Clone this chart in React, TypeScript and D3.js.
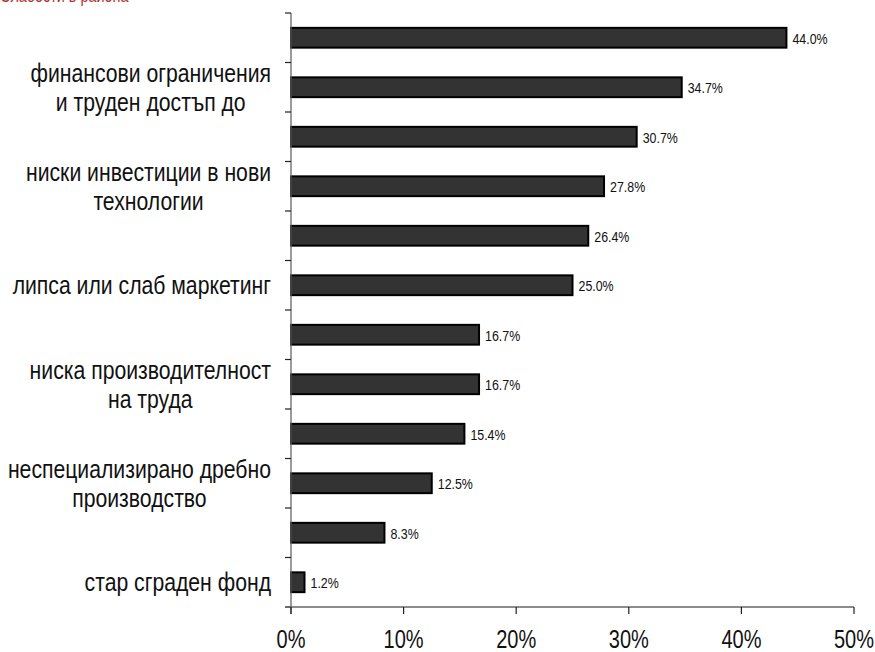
import React, { useEffect, useRef } from "react";
import * as d3 from "d3";

const labelLines: string[][] = [
  [],
  ["финансови ограничения", "и труден достъп до"],
  [],
  ["ниски инвестиции в нови", "технологии"],
  [],
  ["липса или слаб маркетинг"],
  [],
  ["ниска производителност", "на труда"],
  [],
  ["неспециализирано дребно", "производство"],
  [],
  ["стар сграден фонд"],
];
const values: number[] = [44.0, 34.7, 30.7, 27.8, 26.4, 25.0, 16.7, 16.7, 15.4, 12.5, 8.3, 1.2];
const xTicks: number[] = [0, 10, 20, 30, 40, 50];
const titleText = "Слабости в района";

const W = 875;
const H = 652;
const FONT = "'Liberation Sans', Arial, sans-serif";
const SX = 0.8;

export default function App() {
  const ref = useRef<SVGSVGElement | null>(null);

  useEffect(() => {
    const svg = d3.select(ref.current!);
    svg.selectAll("*").remove();

    const left = 291, right = 854, top = 13, bottom = 607;
    const x = d3.scaleLinear().domain([0, 50]).range([left, right]);
    const idx = values.map((_, i) => String(i));
    const y = d3.scaleBand().domain(idx).range([top, bottom]).paddingInner(0.6).paddingOuter(0.3);
    const step = y.step();

    const txt = (px: number, py: number, s: string, size: number, anchor: string, fill = "#111") =>
      svg.append("text")
        .attr("transform", `translate(${px},${py}) scale(${SX},1)`)
        .attr("text-anchor", anchor)
        .attr("font-family", FONT).attr("font-size", size)
        .attr("fill", fill)
        .text(s);

    // title (cut off at top, as in the reference)
    txt(0, 2, titleText, 18, "start", "#b03030");

    // bars
    svg.append("g").selectAll("rect").data(values).join("rect")
      .attr("x", x(0))
      .attr("y", (_, i) => y(String(i))!)
      .attr("width", (d) => x(d) - x(0))
      .attr("height", y.bandwidth())
      .attr("fill", "#333333")
      .attr("stroke", "#000")
      .attr("stroke-width", 2);

    // value labels
    values.forEach((d, i) => {
      txt(x(d) + 6, y(String(i))! + y.bandwidth() / 2 + 6, d.toFixed(1) + "%", 15.5, "start");
    });

    // y axis line
    svg.append("line")
      .attr("x1", left).attr("x2", left).attr("y1", top).attr("y2", bottom + 7)
      .attr("stroke", "#666").attr("stroke-width", 1.3);
    for (let i = 0; i <= values.length; i++) {
      const yy = top + i * step;
      svg.append("line")
        .attr("x1", left - 6).attr("x2", left).attr("y1", yy).attr("y2", yy)
        .attr("stroke", "#222").attr("stroke-width", 1.2);
    }

    // x axis
    svg.append("line")
      .attr("x1", left - 6).attr("x2", right).attr("y1", bottom).attr("y2", bottom)
      .attr("stroke", "#666").attr("stroke-width", 1.3);
    xTicks.forEach((t) => {
      svg.append("line")
        .attr("x1", x(t)).attr("x2", x(t)).attr("y1", bottom).attr("y2", bottom + 7)
        .attr("stroke", "#222").attr("stroke-width", 1.2);
      txt(x(t), 648, t + "%", 25, "middle");
    });

    // category labels
    const lineH = 28.5;
    const labelY = (cy: number, k: number, n: number) => cy + (k - (n - 1) / 2) * lineH + 9;
    labelLines.forEach((lines, i) => {
      if (!lines.length) return;
      const cy = y(String(i))! + y.bandwidth() / 2;
      const texts = lines.map((ln, k) => txt(0, labelY(cy, k, lines.length), ln, 26.5, "middle"));
      const maxW = (d3.max(texts, (t) => (t.node() as SVGTextElement).getComputedTextLength()) || 0) * SX;
      const cx = 271 - maxW / 2;
      texts.forEach((t, k) =>
        t.attr("transform", `translate(${cx},${labelY(cy, k, lines.length)}) scale(${SX},1)`)
      );
    });
  }, []);

  return (
    <svg ref={ref} width={W} height={H} style={{ position: "absolute", left: 0, top: 0, background: "#fff" }} />
  );
}
